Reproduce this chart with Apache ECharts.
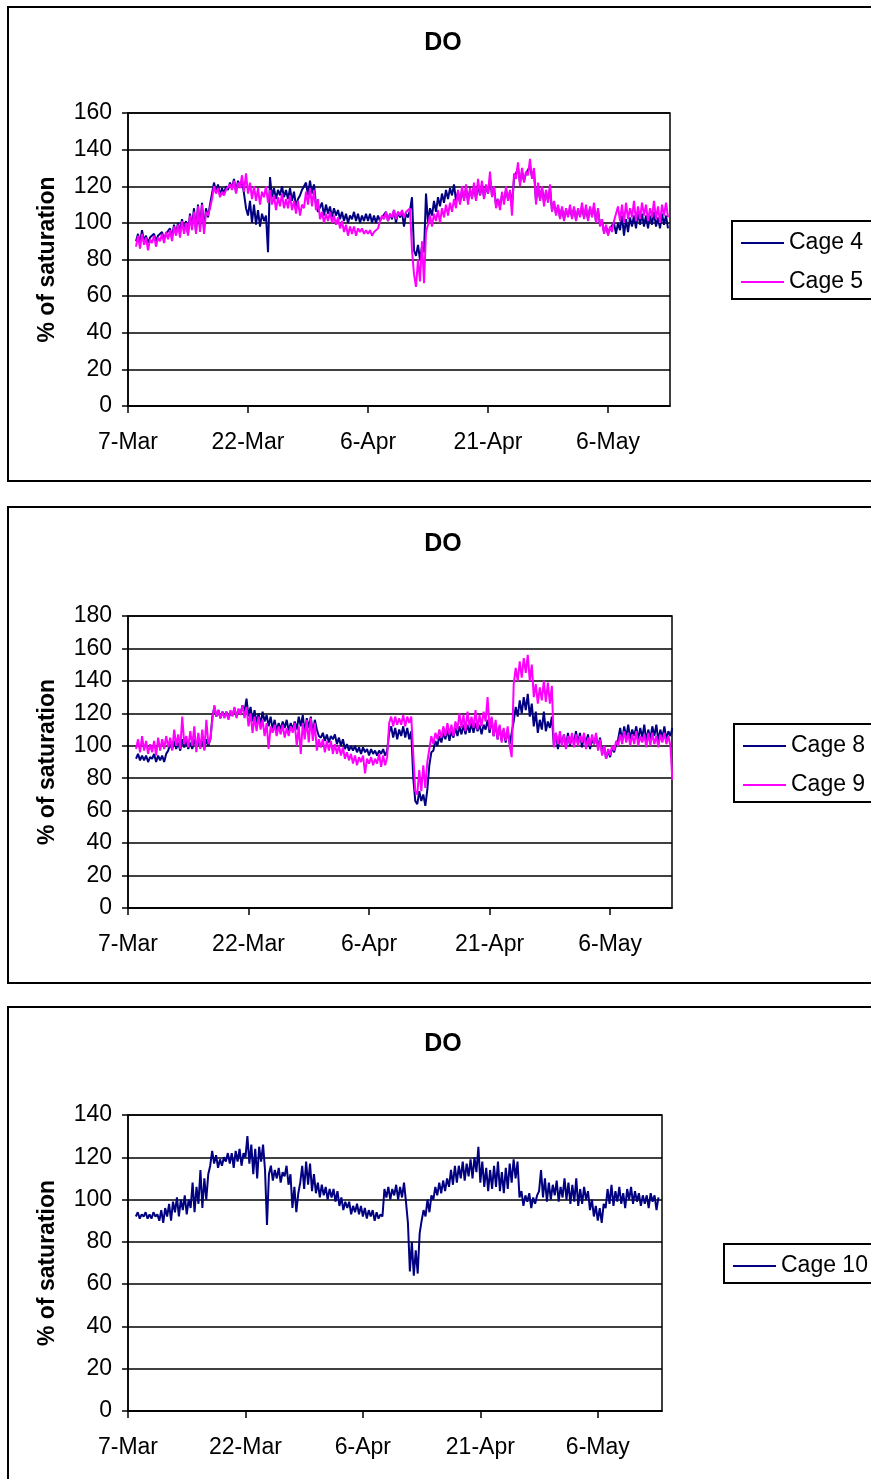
<!DOCTYPE html>
<html>
<head>
<meta charset="utf-8">
<script src="https://cdn.jsdelivr.net/npm/echarts@6/dist/echarts.min.js"></script>
<style>
html,body{margin:0;padding:0;background:#fff;}
#chart{width:871px;height:1479px;}
</style>
</head>
<body>
<div id="chart"></div>
<script>
// ---- data (4 readings per day starting 8-Mar) ----
const xTickLabels = ['7-Mar', '22-Mar', '6-Apr', '21-Apr', '6-May'];
const startDay = 1;      // days after 7-Mar of first reading
const stepDay = 0.25;    // spacing of readings in days

const cage4 = [
90,94,89,96, 90,93,89,92, 91,94,90,93, 92,95,91,94, 93,97,92,99,
94,100,95,102, 96,101,94,105, 98,108,95,110, 97,111,96,108, 103,110,116,122,
117,121,115,119, 116,120,118,122, 119,124,117,123, 120,123,116,108, 104,112,100,110,
99,107,98,105, 101,104,84,125, 114,119,113,118, 115,120,114,118, 113,119,112,117,
109,113,115,118, 117,122,115,123, 116,121,110,106, 106,111,104,110, 105,109,103,108,
104,107,102,106, 101,105,100,104, 102,106,101,105, 100,104,101,105, 101,105,100,104,
100,104,101,103, 102,106,101,105, 102,107,100,106, 103,106,98,105, 103,107,114,85,
82,88,80,87, 84,116,100,108, 104,112,106,114, 109,116,111,118, 113,119,115,121,
112,117,111,118, 113,119,112,118, 114,120,113,121, 115,121,114,120, 116,124,115,119,
110,113,109,115, 112,118,113,117, 110,124,125,130, 122,128,123,127, 126,131,125,128,
112,120,113,119, 111,117,112,119, 107,111,105,109, 103,108,102,107, 104,108,103,108,
102,107,104,109, 103,108,102,108, 104,109,101,107, 99,101,95,98, 94,97,96,100,
94,100,96,104, 93,102,95,103, 98,104,97,106, 99,105,98,104, 97,104,99,106,
98,103,97,105, 99,104,97
];

const cage5 = [
87,93,86,94, 88,92,85,91, 89,93,87,92, 90,94,89,95, 91,96,90,98,
93,99,92,101, 94,100,93,104, 96,106,94,109, 95,110,94,106, 104,108,113,120,
116,119,114,117, 115,118,117,121, 118,123,116,122, 119,126,117,127, 116,122,113,120,
112,119,110,117, 114,120,111,118, 110,115,107,114, 109,116,108,113, 108,115,107,112,
105,112,104,110, 108,117,110,119, 109,118,107,113, 102,106,100,105, 101,106,100,104,
99,103,97,101, 95,99,93,98, 94,98,93,97, 95,97,94,96, 94,96,93,95,
95,97,101,104, 102,106,101,105, 103,107,102,106, 104,107,103,106, 105,108,85,72,
65,80,68,90, 67,95,99,104, 98,105,101,107, 100,108,103,110, 104,111,106,113,
108,118,110,120, 112,121,110,119, 113,122,112,124, 115,123,113,121, 116,128,114,120,
108,113,107,117, 110,120,112,118, 104,127,124,133, 120,130,122,128, 126,135,124,130,
110,122,112,120, 109,118,111,121, 106,112,104,110, 102,109,101,108, 103,110,102,109,
101,108,103,111, 102,110,101,109, 103,111,100,108, 98,102,94,99, 93,98,95,101,
102,109,101,110, 100,111,102,108, 103,112,101,109, 102,111,104,110, 101,108,103,112,
102,109,100,110, 104,111,103
];

const cage8 = [
92,95,91,94, 91,94,90,93, 92,95,90,94, 91,94,90,95, 97,101,98,103,
98,102,97,104, 99,103,98,102, 98,104,99,103, 99,103,98,104, 100,104,118,124,
118,122,117,121, 118,121,117,120, 119,123,118,122, 120,125,121,129, 118,124,115,122,
114,120,113,121, 115,119,112,118, 110,116,109,114, 110,115,111,116, 109,114,110,115,
110,118,112,119, 108,117,111,118, 107,116,110,106, 105,108,103,107, 102,106,104,107,
101,105,100,104, 98,101,97,100, 97,100,96,99, 95,99,96,98, 94,98,95,97,
94,97,95,98, 94,97,108,112, 105,111,104,110, 106,112,105,111, 104,109,80,66,
64,72,66,70, 63,73,88,96, 97,103,100,106, 102,108,104,110, 103,109,105,111,
106,112,107,113, 107,113,108,114, 108,114,109,113, 107,113,110,116, 108,117,106,114,
104,112,103,110, 102,110,101,108, 115,124,118,128, 120,130,122,132, 118,126,112,121,
108,116,110,121, 109,115,111,118, 100,108,98,106, 101,107,99,108, 100,106,102,109,
101,108,99,106, 102,107,98,104, 101,106,99,105, 95,100,92,97, 93,99,96,101,
104,111,103,112, 105,113,104,110, 106,112,104,111, 105,113,103,110, 104,112,106,113,
103,110,105,112, 104,109,106,111
];

const cage9 = [
98,104,96,106, 97,103,95,101, 96,103,94,105, 97,104,98,106, 99,105,97,110,
100,107,98,118, 101,106,99,109, 100,112,96,108, 98,110,97,116, 101,104,116,125,
118,122,117,121, 117,121,116,122, 118,124,117,123, 119,125,117,124, 112,120,108,118,
109,118,110,116, 106,114,98,112, 108,113,106,112, 107,113,105,111, 106,112,108,114,
100,112,95,114, 104,116,102,117, 103,114,97,104, 99,104,96,103, 97,103,95,101,
95,100,94,99, 92,96,91,95, 89,94,88,93, 90,94,83,92, 89,93,88,92,
89,95,87,94, 88,93,114,118, 112,118,113,117, 113,119,112,118, 114,118,95,72,
70,85,72,88, 74,90,98,106, 101,108,104,110, 105,112,106,114, 107,113,106,115,
110,120,111,119, 109,121,112,118, 111,122,110,119, 112,121,115,130, 110,118,106,116,
104,113,102,111, 103,112,100,93, 138,148,140,152, 142,154,145,156, 140,150,130,138,
126,136,128,140, 127,139,126,137, 99,108,101,109, 100,107,98,106, 101,108,99,107,
100,106,102,108, 98,105,100,107, 101,108,97,104, 94,100,92,98, 94,100,97,103,
100,107,101,109, 102,108,100,107, 101,109,100,106, 102,107,99,108, 100,108,101,106,
99,107,102,108, 101,106,100,79
];

const cage10 = [
92,94,91,93, 92,94,91,93, 91,94,92,93, 90,95,89,96, 92,98,90,99,
94,101,92,100, 95,102,93,100, 96,108,94,106, 98,114,96,110, 100,112,116,123,
117,121,115,119, 116,120,118,122, 117,122,115,123, 118,124,116,122, 120,130,117,126,
112,124,110,125, 118,126,114,88, 112,116,109,114, 110,115,108,113, 111,116,107,112,
96,106,94,103, 108,116,105,118, 107,117,104,112, 103,108,101,107, 102,106,100,105,
101,105,99,104, 97,101,95,99, 96,99,93,97, 94,98,93,97, 92,96,91,95,
92,95,90,94, 91,93,92,105, 101,106,100,105, 102,107,100,106, 101,108,99,89,
66,80,64,76, 65,84,90,95, 92,100,94,102, 100,106,102,108, 103,109,104,110,
106,114,107,116, 108,116,110,118, 109,117,111,119, 110,120,113,125, 108,118,106,115,
104,114,105,116, 106,118,104,113, 103,115,105,117, 108,119,110,118, 101,104,97,102,
99,103,96,101, 98,102,104,114, 101,110,99,108, 100,107,102,109, 99,106,101,110,
100,108,98,107, 99,110,97,105, 98,106,100,104, 95,100,92,97, 90,96,89,98,
96,105,98,107, 97,104,99,106, 98,103,96,105, 100,106,98,104, 99,103,97,102,
98,102,96,103, 99,102,95,101
];

// ---- build ----
const NAVY = '#000080', MAGENTA = '#FF00FF';
const FONT = '"Liberation Sans", Arial, sans-serif';

function pairs(arr) {
  return arr.map((v, i) => [startDay + i * stepDay, v]);
}

const panels = [
  { top: 113, height: 293, width: 542, xMax: 67.75, yMax: 160, box: [8, 7, 474], title: 43,
    legend: { left: 732, top: 221 }, series: [['Cage 4', cage4, NAVY], ['Cage 5', cage5, MAGENTA]] },
  { top: 616, height: 292, width: 544, xMax: 67.7, yMax: 180, box: [8, 507, 476], title: 544,
    legend: { left: 734, top: 724 }, series: [['Cage 8', cage8, NAVY], ['Cage 9', cage9, MAGENTA]] },
  { top: 1115, height: 296, width: 534, xMax: 68.2, yMax: 140, box: [8, 1007, 520], title: 1044,
    legend: { left: 724, top: 1244 }, series: [['Cage 10', cage10, NAVY]] }
];

const option = {
  animation: false,
  backgroundColor: '#fff',
  grid: [], xAxis: [], yAxis: [], legend: [], series: [], graphic: []
};

panels.forEach((p, k) => {
  option.grid.push({
    left: 128, top: p.top, width: p.width, height: p.height,
    show: true, backgroundColor: '#fff', borderColor: '#000', borderWidth: 1.5
  });
  option.xAxis.push({
    type: 'value', gridIndex: k, min: 0, max: p.xMax, interval: 15,
    axisLine: { show: true, lineStyle: { color: '#000', width: 1.5 } },
    axisTick: { show: true, length: 7, lineStyle: { color: '#000', width: 1.5 } },
    splitLine: { show: false },
    axisLabel: {
      color: '#000', fontSize: 23, fontFamily: FONT, margin: 25, showMaxLabel: false,
      formatter: v => { const i = v / 15; return Number.isInteger(i) && xTickLabels[i] ? xTickLabels[i] : ''; }
    }
  });
  option.yAxis.push({
    type: 'value', gridIndex: k, min: 0, max: p.yMax, interval: 20,
    name: '% of saturation', nameLocation: 'middle', nameGap: 69, nameRotate: 90,
    nameTextStyle: { color: '#000', fontSize: 23, fontWeight: 'bold', fontFamily: FONT },
    axisLine: { show: true, lineStyle: { color: '#000', width: 1.5 } },
    axisTick: { show: true, length: 6, lineStyle: { color: '#000', width: 1.5 } },
    splitLine: { show: true, lineStyle: { color: '#000', width: 1.5 } },
    axisLabel: { color: '#000', fontSize: 23, fontFamily: FONT, margin: 16, padding: [5, 0, 0, 0] }
  });
  option.legend.push({
    orient: 'vertical', left: p.legend.left, top: p.legend.top,
    data: p.series.map(s => s[0]),
    icon: 'rect', itemWidth: 43, itemHeight: 2, itemGap: 15,
    padding: [10, 40, 5, 9],
    borderColor: '#000', borderWidth: 2, backgroundColor: '#fff',
    selectedMode: false,
    textStyle: { color: '#000', fontSize: 23, fontFamily: FONT, lineHeight: 24 }
  });
  p.series.forEach(s => {
    option.series.push({
      name: s[0], type: 'line', xAxisIndex: k, yAxisIndex: k,
      data: pairs(s[1]), symbol: 'none', showSymbol: false,
      lineStyle: { color: s[2], width: 2 }, itemStyle: { color: s[2] },
      emphasis: { disabled: true }
    });
  });
  option.graphic.push({
    type: 'rect', z: -10, silent: true,
    shape: { x: p.box[0], y: p.box[1], width: 900, height: p.box[2] },
    style: { fill: 'none', stroke: '#000', lineWidth: 2 }
  });
  option.graphic.push({
    type: 'text', silent: true, x: 443, y: p.title,
    style: { text: 'DO', font: 'bold 25px ' + FONT, fill: '#000', textAlign: 'center', textVerticalAlign: 'middle' }
  });
});

const chart = echarts.init(document.getElementById('chart'), null, { renderer: 'canvas' });
chart.setOption(option);
</script>
</body>
</html>
